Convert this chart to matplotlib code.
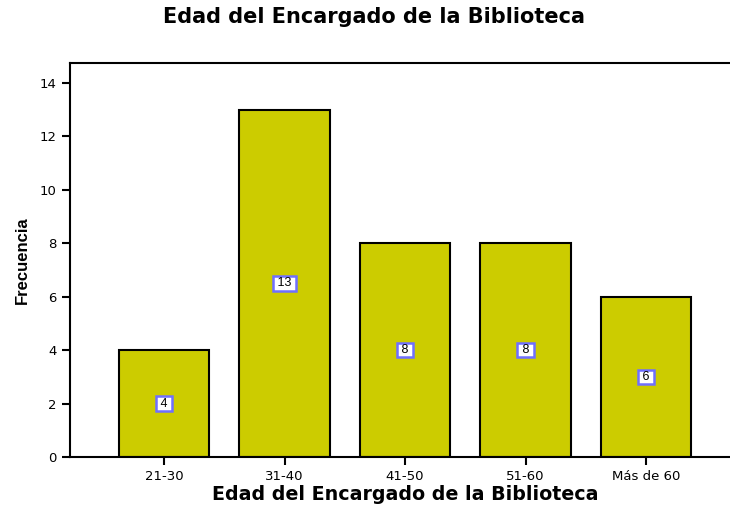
import matplotlib.pyplot as plt

categories = ['21-30', '31-40', '41-50', '51-60', 'Más de 60']
counts = [4, 13, 8, 8, 6]
yticks = [0, 2, 4, 6, 8, 10, 12, 14]


def main():
    plt.rcParams['font.family'] = ['DejaVu Sans']

    fig = plt.figure(figsize=(7.3, 5.07), dpi=100)
    ax = fig.add_axes([0.0959, 0.0986, 0.9178, 0.7771])

    x = list(range(len(categories)))
    ax.bar(x, counts, width=0.755, color='#CCCC00', edgecolor='black', linewidth=1.5, zorder=2)

    # value boxes in the middle of each bar
    for xi, v in zip(x, counts):
        ax.text(xi, v / 2, ' %d ' % v, ha='center', va='center', fontsize=9,
                family=['Liberation Sans', 'DejaVu Sans'],
                bbox=dict(boxstyle='square,pad=0.1', fc='white', ec='#6F6FFF', lw=1.8), zorder=3)

    ax.set_xlim(-0.78, 4.78)
    ax.set_ylim(0, 14.75)
    ax.set_xticks(x)
    ax.set_xticklabels(categories, fontsize=9.5)
    ax.set_yticks(yticks)
    ax.set_yticklabels([str(t) for t in yticks], fontsize=9.5)
    ax.tick_params(axis='both', direction='out', length=5.5, width=1.5, pad=4)

    for s in ['left', 'bottom', 'top']:
        ax.spines[s].set_linewidth(1.5)
    ax.spines['right'].set_visible(False)

    ax.set_xlabel('Edad del Encargado de la Biblioteca', fontsize=13.7, fontweight='bold', labelpad=1)
    ax.set_ylabel('Frecuencia', fontsize=12, fontweight='bold', labelpad=7,
                  family=['Liberation Sans', 'DejaVu Sans'])

    fig.text(374 / 730, 1 - 17 / 507, 'Edad del Encargado de la Biblioteca', ha='center', va='center',
             fontsize=15, fontweight='bold')

    fig.savefig('out.png', dpi=100)


if __name__ == '__main__':
    main()
